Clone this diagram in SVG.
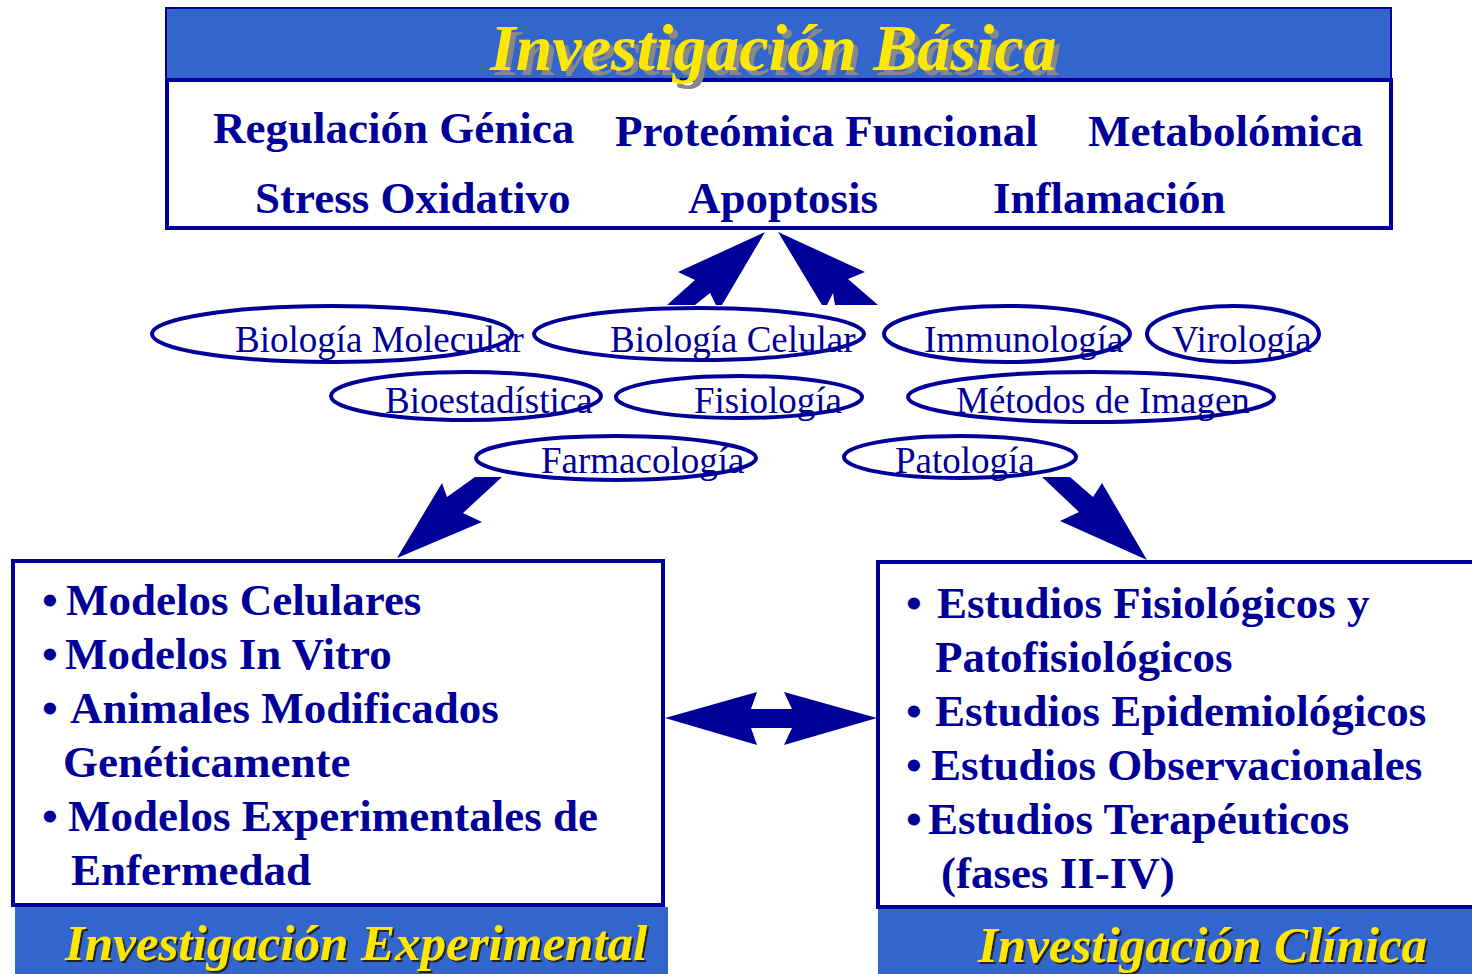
<svg xmlns="http://www.w3.org/2000/svg" width="1472" height="974" viewBox="0 0 1472 974">
<style>
.banner{fill:#3366CC;stroke:#000099;stroke-width:2}
.box{fill:#FFFFFF;stroke:#000099;stroke-width:4}
.ttl{font-family:"Liberation Serif",serif;font-weight:bold;font-style:italic;fill:#FFE800}
.bt{font-family:"Liberation Serif",serif;font-weight:bold;font-size:45px;fill:#000099}
.el{fill:none;stroke:#000099;stroke-width:4}
.et{font-family:"Liberation Serif",serif;font-size:37px;fill:#000099}
.arr{fill:#000099;stroke:none}
</style>
<defs>
<filter id="shGray" x="-5%" y="-20%" width="110%" height="150%"><feDropShadow dx="5" dy="5" stdDeviation="0" flood-color="#888888" flood-opacity="1"/></filter>
<filter id="shDark" x="-5%" y="-20%" width="110%" height="150%"><feDropShadow dx="2" dy="2" stdDeviation="0" flood-color="#222222" flood-opacity="1"/></filter>
</defs>
<rect width="1472" height="974" fill="#FFFFFF"/>

<g id="basica">
<rect class="banner" x="166" y="8" width="1225" height="72"/>
<rect class="box" x="167" y="80" width="1224" height="148"/>
<text class="ttl" x="490" y="70" font-size="66" filter="url(#shGray)">Investigación Básica</text>
<text class="bt" x="213" y="143">Regulación Génica</text>
<text class="bt" x="615" y="146">Proteómica Funcional</text>
<text class="bt" x="1088" y="146">Metabolómica</text>
<text class="bt" x="255" y="213">Stress Oxidativo</text>
<text class="bt" x="688" y="213">Apoptosis</text>
<text class="bt" x="993" y="213">Inflamación</text>
</g>

<g id="connectors">
<polygon class="arr" points="765,232 722,305 716,305 710,293 695,305 667,305 695,280 678,272"/>
<polygon class="arr" points="778,232 865,272 848,279 878,305 835,305 833,293 827,305 822,305"/>
<polygon class="arr" points="397,558 442,483 447,497 475,477 502,477 463,513 482,522"/>
<polygon class="arr" points="1147,560 1060,521 1079,512 1042,477 1070,477 1093,497 1102,483"/>
<polygon class="arr" points="665,718 757,692 751,709 792,709 784,692 877,718 784,745 792,728 751,728 757,745"/>
</g>

<g id="disciplinas">
<g id="biomol"><ellipse class="el" cx="332" cy="334" rx="180" ry="28"/><text class="et" x="235" y="352">Biología Molecular</text></g>
<g id="biocel"><ellipse class="el" cx="699" cy="334" rx="165" ry="26"/><text class="et" x="610" y="352">Biología Celular</text></g>
<g id="immuno"><ellipse class="el" cx="1007" cy="334" rx="123" ry="28"/><text class="et" x="924" y="352">Immunología</text></g>
<g id="viro"><ellipse class="el" cx="1233" cy="334" rx="86" ry="28"/><text class="et" x="1172" y="352">Virología</text></g>
<g id="bioest"><ellipse class="el" cx="466" cy="396" rx="135" ry="24"/><text class="et" x="385" y="413">Bioestadística</text></g>
<g id="fisio"><ellipse class="el" cx="739" cy="397" rx="123" ry="21"/><text class="et" x="694" y="413">Fisiología</text></g>
<g id="metodos"><ellipse class="el" cx="1091" cy="397" rx="183" ry="25"/><text class="et" x="956" y="413">Métodos de Imagen</text></g>
<g id="farma"><ellipse class="el" cx="616" cy="458" rx="140" ry="22"/><text class="et" x="541" y="473">Farmacología</text></g>
<g id="pato"><ellipse class="el" cx="960" cy="457" rx="116" ry="21"/><text class="et" x="895" y="473">Patología</text></g>
</g>

<g id="experimental">
<rect class="box" x="13" y="561" width="650" height="344"/>
<text class="bt" y="615"><tspan x="42">•</tspan><tspan x="66">Modelos Celulares</tspan></text>
<text class="bt" y="669"><tspan x="42">•</tspan><tspan x="65">Modelos In Vitro</tspan></text>
<text class="bt" y="723"><tspan x="42">•</tspan><tspan x="70">Animales Modificados</tspan></text>
<text class="bt" x="63" y="777">Genéticamente</text>
<text class="bt" y="831"><tspan x="42">•</tspan><tspan x="68">Modelos Experimentales de</tspan></text>
<text class="bt" x="71" y="885">Enfermedad</text>
<rect x="15" y="907" width="653" height="67" fill="#3366CC"/>
<text class="ttl" x="65" y="960" font-size="51" filter="url(#shDark)">Investigación Experimental</text>
</g>

<g id="clinica">
<rect class="box" x="878" y="562" width="600" height="345"/>
<text class="bt" y="618"><tspan x="906">•</tspan><tspan x="937">Estudios Fisiológicos y</tspan></text>
<text class="bt" x="935" y="672">Patofisiológicos</text>
<text class="bt" y="726"><tspan x="906">•</tspan><tspan x="935">Estudios Epidemiológicos</tspan></text>
<text class="bt" y="780"><tspan x="906">•</tspan><tspan x="931">Estudios Observacionales</tspan></text>
<text class="bt" y="834"><tspan x="906">•</tspan><tspan x="928">Estudios Terapéuticos</tspan></text>
<text class="bt" x="941" y="888">(fases II-IV)</text>
<rect x="878" y="909" width="594" height="65" fill="#3366CC"/>
<text class="ttl" x="978" y="962" font-size="51" filter="url(#shDark)">Investigación Clínica</text>
</g>
</svg>
